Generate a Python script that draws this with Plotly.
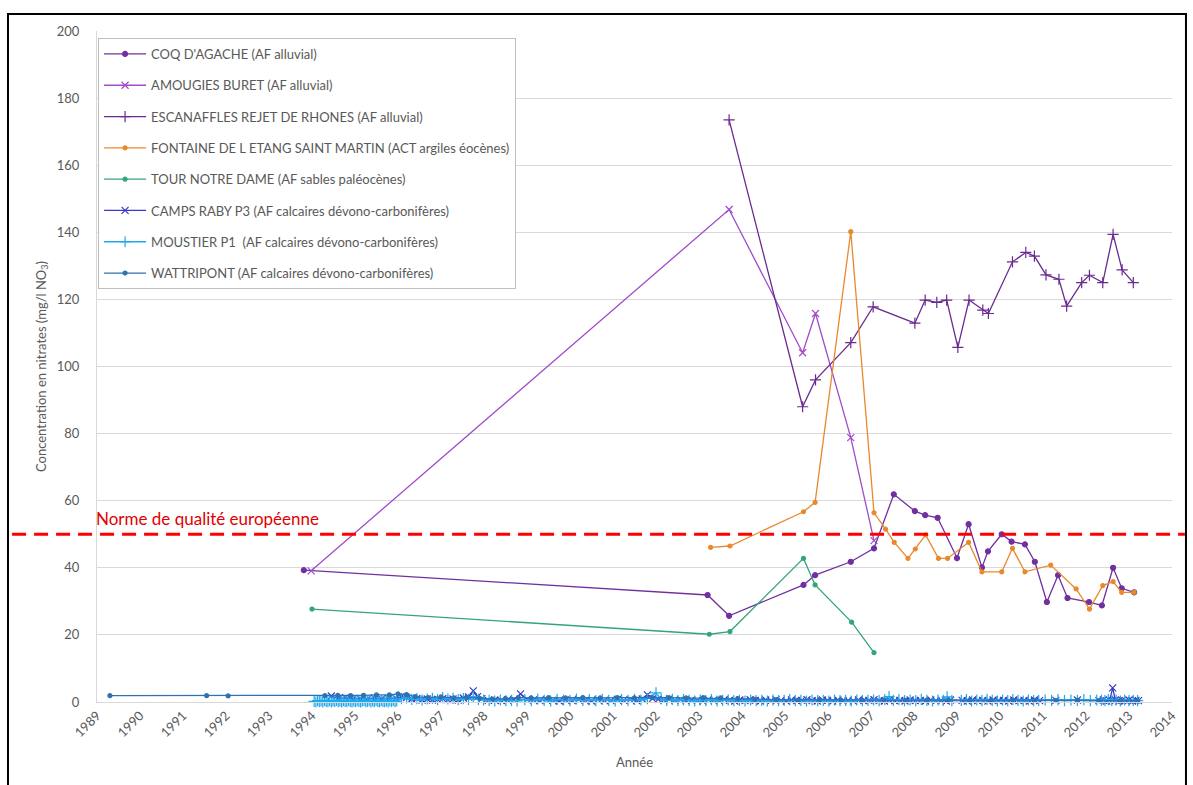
import plotly.graph_objects as go

# --- Nitrate concentrations (mg/l NO3) per well, x in decimal years ---
coq_x = [1993.81, 2003.20, 2003.70, 2005.43, 2005.70, 2006.53, 2007.07, 2007.53, 2008.02, 2008.26,
         2008.55, 2009.00, 2009.27, 2009.58, 2009.72, 2010.04, 2010.27, 2010.58, 2010.81, 2011.09,
         2011.35, 2011.57, 2012.07, 2012.37, 2012.63, 2012.83, 2013.12]
coq_y = [39.3, 31.9, 25.7, 34.9, 37.8, 41.8, 45.8, 61.9, 56.9, 55.7,
         54.9, 42.9, 53.0, 40.1, 44.9, 50.0, 47.8, 47.0, 41.8, 29.8,
         37.8, 31.0, 29.8, 28.8, 40.0, 33.9, 32.7]

amougies_x = [1993.98, 2003.70, 2005.41, 2005.71, 2006.53, 2007.07]
amougies_y = [39.1, 146.8, 104.1, 115.8, 78.8, 48.1]

escanaffles_x = [2003.70, 2005.41, 2005.71, 2006.53, 2007.05, 2008.02, 2008.26, 2008.53, 2008.76, 2009.02,
                 2009.28, 2009.60, 2009.73, 2010.29, 2010.60, 2010.80, 2011.07, 2011.37, 2011.55, 2011.90,
                 2012.08, 2012.39, 2012.63, 2012.84, 2013.10]
escanaffles_y = [173.5, 88.0, 96.0, 107.1, 117.8, 112.9, 119.8, 119.1, 119.8, 105.7,
                 119.8, 116.8, 115.8, 131.2, 134.0, 132.9, 127.3, 126.0, 118.0, 125.0,
                 127.2, 125.0, 139.4, 128.8, 125.0]

fontaine_x = [2003.27, 2003.72, 2005.43, 2005.70, 2006.53, 2007.07, 2007.34, 2007.54, 2007.86, 2008.03,
              2008.27, 2008.57, 2008.78, 2009.27, 2009.58, 2010.04, 2010.29, 2010.58, 2011.18, 2011.77,
              2012.08, 2012.39, 2012.63, 2012.83, 2013.12]
fontaine_y = [46.1, 46.5, 56.7, 59.5, 140.2, 56.4, 51.5, 47.6, 42.8, 45.6,
              49.8, 42.8, 42.8, 47.6, 38.8, 38.8, 45.8, 38.8, 40.8, 33.7,
              27.7, 34.7, 35.9, 32.7, 32.7]

tour_x = [1994.00, 2003.24, 2003.72, 2005.43, 2005.70, 2006.55, 2007.07]
tour_y = [27.7, 20.2, 21.0, 42.8, 34.9, 23.8, 14.7]

camps_raby = [
    (1994.45, 1.8), (1994.62, 1.0), (1994.78, 1.3), (1994.95, 0.9), (1995.12, 1.1), (1995.28, 0.8),
    (1995.45, 1.2), (1995.62, 0.9), (1995.78, 1.0), (1995.95, 1.2), (1996.08, 1.6), (1996.20, 1.4),
    (1996.32, 0.9), (1996.44, 1.1), (1996.56, 0.6), (1996.68, 0.9), (1996.80, 0.6), (1996.92, 0.8),
    (1997.04, 1.0), (1997.16, 0.7), (1997.28, 0.9), (1997.40, 0.6), (1997.52, 1.2), (1997.64, 1.5),
    (1997.75, 3.3), (1997.85, 1.6), (1997.95, 1.0), (1998.10, 0.5), (1998.25, 0.6), (1998.40, 0.4),
    (1998.55, 0.6), (1998.70, 0.8), (1998.85, 2.4), (1999.00, 0.8), (1999.15, 0.6), (1999.30, 0.4),
    (1999.45, 0.7), (1999.60, 0.5), (1999.75, 0.3), (1999.90, 0.6), (2000.05, 0.4), (2000.20, 0.8),
    (2000.35, 0.5), (2000.50, 0.3), (2000.65, 0.7), (2000.80, 0.5), (2000.95, 0.4), (2001.10, 0.8),
    (2001.25, 0.5), (2001.40, 0.7), (2001.55, 0.4), (2001.68, 0.9), (2001.80, 2.1), (2001.92, 1.0),
    (2002.05, 0.8), (2002.18, 0.6), (2002.31, 0.9), (2002.44, 0.5), (2002.57, 0.7), (2002.70, 0.4),
    (2002.83, 0.6), (2002.96, 0.5), (2003.09, 0.3), (2003.22, 0.7), (2003.35, 0.6), (2003.47, 0.4),
    (2003.59, 0.7), (2003.71, 0.5), (2003.83, 0.3), (2003.95, 0.6), (2004.07, 0.4), (2004.19, 0.7),
    (2004.31, 0.5), (2004.43, 0.3), (2004.55, 0.6), (2004.67, 0.4), (2004.79, 0.7), (2004.91, 0.5),
    (2005.03, 0.3), (2005.15, 0.6), (2005.27, 0.4), (2005.39, 0.5), (2005.51, 0.7), (2005.63, 0.4),
    (2005.75, 0.3), (2005.87, 0.6), (2005.99, 0.5), (2006.11, 0.3), (2006.23, 0.6), (2006.35, 0.4),
    (2006.47, 0.5), (2006.59, 0.3), (2006.71, 0.6), (2006.83, 0.4), (2006.95, 0.5), (2007.07, 0.7),
    (2007.19, 0.4), (2007.31, 0.3), (2007.43, 0.6), (2007.55, 0.4), (2007.67, 0.5), (2007.79, 0.3),
    (2007.91, 0.6), (2008.03, 0.4), (2008.15, 0.5), (2008.27, 0.3), (2008.39, 0.6), (2008.51, 0.4),
    (2008.63, 0.5), (2008.75, 0.3), (2008.85, 0.6), (2009.12, 0.5), (2009.24, 0.3), (2009.36, 0.6),
    (2009.48, 0.4), (2009.60, 0.5), (2009.72, 0.3), (2009.84, 0.6), (2009.96, 0.4), (2010.08, 0.5),
    (2010.20, 0.3), (2010.32, 0.6), (2010.44, 0.4), (2010.56, 0.5), (2010.68, 0.3), (2010.80, 0.6),
    (2010.92, 0.4), (2011.30, 0.5), (2011.80, 0.6), (2012.30, 0.4), (2012.40, 0.6), (2012.48, 0.3),
    (2012.55, 0.5), (2012.62, 4.2), (2012.68, 0.6), (2012.76, 0.3), (2012.84, 0.5), (2012.92, 0.4),
    (2013.00, 0.6), (2013.08, 0.3), (2013.16, 0.5), (2013.22, 0.4),
]

moustier = [
    (1994.05, 0.2), (1994.09, 0.0), (1994.13, 0.4), (1994.17, 0.1), (1994.21, 0.3), (1994.25, 0.0),
    (1994.29, 0.5), (1994.33, 0.2), (1994.37, 0.1), (1994.41, 0.4), (1994.45, 0.0), (1994.49, 0.3),
    (1994.53, 0.2), (1994.57, 0.5), (1994.61, 0.1), (1994.65, 0.3), (1994.69, 0.0), (1994.73, 0.4),
    (1994.77, 0.2), (1994.81, 0.1), (1994.85, 0.5), (1994.89, 0.2), (1994.93, 0.0), (1994.97, 0.3),
    (1995.01, 0.1), (1995.05, 0.4), (1995.09, 0.2), (1995.13, 0.0), (1995.17, 0.3), (1995.21, 0.5),
    (1995.25, 0.1), (1995.29, 0.2), (1995.33, 0.4), (1995.37, 0.0), (1995.41, 0.3), (1995.45, 0.1),
    (1995.49, 0.5), (1995.53, 0.2), (1995.57, 0.0), (1995.61, 0.4), (1995.65, 0.2), (1995.69, 0.1),
    (1995.73, 0.3), (1995.77, 0.0), (1995.81, 0.4), (1995.85, 0.2), (1995.89, 0.5), (1995.93, 0.1),
    (1995.97, 0.3), (1996.08, 1.0), (1996.20, 1.2), (1996.32, 0.8), (1996.44, 1.0), (1996.56, 0.6),
    (1996.68, 0.9), (1996.80, 1.1), (1996.92, 0.7), (1997.04, 1.3), (1997.16, 0.9), (1997.28, 1.1),
    (1997.40, 0.7), (1997.52, 1.0), (1997.64, 0.8), (1997.75, 1.6), (1997.87, 0.8), (1997.99, 0.6),
    (1998.12, 0.5), (1998.25, 0.3), (1998.38, 0.6), (1998.51, 0.4), (1998.64, 0.5), (1998.77, 0.3),
    (1998.95, 0.7), (1999.10, 0.4), (1999.25, 0.9), (1999.40, 0.5), (1999.55, 0.3), (1999.70, 0.8),
    (1999.85, 0.6), (2000.00, 0.4), (2000.15, 0.9), (2000.30, 0.5), (2000.45, 0.7), (2000.60, 0.4),
    (2000.75, 0.8), (2000.90, 0.5), (2001.05, 0.3), (2001.20, 0.7), (2001.35, 0.5), (2001.50, 0.8),
    (2001.65, 0.6), (2001.80, 1.0), (2002.00, 2.7), (2002.12, 0.9), (2002.25, 0.5), (2002.38, 0.8),
    (2002.51, 0.4), (2002.64, 0.7), (2002.77, 0.5), (2002.90, 0.3), (2003.03, 0.6), (2003.16, 0.4),
    (2003.29, 0.7), (2003.42, 0.3), (2003.55, 0.5), (2003.68, 0.6), (2003.81, 0.4), (2003.94, 0.5),
    (2004.07, 0.3), (2004.20, 0.6), (2004.33, 0.4), (2004.46, 0.5), (2004.59, 0.3), (2004.72, 0.6),
    (2004.85, 0.4), (2004.98, 0.5), (2005.11, 0.7), (2005.24, 0.4), (2005.37, 0.5), (2005.50, 0.3),
    (2005.63, 0.6), (2005.76, 0.4), (2005.89, 0.5), (2006.02, 0.3), (2006.15, 0.6), (2006.28, 0.4),
    (2006.41, 0.5), (2006.54, 0.3), (2006.67, 0.6), (2006.80, 0.4), (2006.93, 0.5), (2007.06, 0.6),
    (2007.19, 0.4), (2007.32, 0.7), (2007.42, 1.6), (2007.52, 0.5), (2007.65, 0.7), (2007.78, 0.4),
    (2007.91, 0.6), (2008.04, 0.4), (2008.17, 0.8), (2008.30, 0.5), (2008.43, 0.3), (2008.56, 0.6),
    (2008.68, 0.5), (2008.77, 1.5), (2008.88, 0.4), (2009.10, 0.5), (2009.22, 0.7), (2009.34, 0.3),
    (2009.46, 0.6), (2009.58, 0.4), (2009.70, 0.8), (2009.82, 0.5), (2009.94, 0.3), (2010.06, 0.6),
    (2010.18, 0.4), (2010.30, 0.7), (2010.42, 0.5), (2010.54, 0.3), (2010.66, 0.6), (2010.78, 0.4),
    (2010.90, 0.5), (2011.05, 0.6), (2011.20, 0.5), (2011.35, 0.7), (2011.50, 0.4), (2011.65, 0.6),
    (2011.80, 0.5), (2011.95, 0.7), (2012.10, 0.4), (2012.25, 0.6), (2012.36, 0.5), (2012.44, 0.4),
    (2012.52, 0.7), (2012.60, 0.5), (2012.70, 0.6), (2012.80, 0.3), (2012.90, 0.6), (2013.00, 0.4),
    (2013.10, 0.5), (2013.20, 0.4),
]

wattripont = [
    (1989.30, 1.9), (1991.55, 1.9), (1992.05, 1.8), (1994.30, 1.9), (1994.60, 2.0), (1994.90, 1.9),
    (1995.20, 2.0), (1995.50, 2.1), (1995.80, 2.1), (1996.00, 2.4), (1996.20, 2.2), (1996.40, 1.6),
    (1996.70, 1.3), (1997.00, 1.5), (1997.30, 1.2), (1997.60, 1.4), (1997.90, 1.1), (1998.20, 0.9),
    (1998.50, 1.0), (1998.80, 1.3), (1999.10, 1.2), (1999.50, 1.3), (1999.90, 1.2), (2000.30, 1.3),
    (2000.70, 1.2), (2001.10, 1.3), (2001.50, 1.2), (2001.90, 1.4), (2002.30, 1.3), (2002.70, 1.2),
    (2003.10, 1.3), (2003.50, 1.2), (2003.90, 1.0), (2004.30, 0.8), (2004.80, 0.7), (2005.30, 0.6),
    (2005.80, 0.7), (2006.30, 0.6), (2006.80, 0.5), (2007.30, 0.6), (2007.80, 0.5), (2008.30, 0.6),
    (2008.80, 0.5), (2009.30, 0.6), (2009.80, 0.5), (2010.30, 0.6), (2010.80, 0.5), (2011.30, 0.4),
    (2011.80, 0.5), (2012.30, 0.4), (2012.80, 0.5), (2013.20, 0.4),
]

norme_ue = 50
years = list(range(1989, 2015))

FONT = "Lato, 'Open Sans', sans-serif"
GREY = "#595959"

fig = go.Figure()


def add_series(name, x, y, color, symbol, size, group, width=1.3):
    fig.add_trace(go.Scatter(
        x=x, y=y, name=name, mode="lines+markers", legendgroup=group, cliponaxis=False,
        line=dict(color=color, width=width),
        marker=dict(symbol=symbol, size=size, color=color,
                    line=dict(color=color, width=1.2)),
    ))


add_series("COQ D'AGACHE (AF alluvial)", coq_x, coq_y, "#7030A0", "circle", 5, "g1")
add_series("AMOUGIES BURET (AF alluvial)", amougies_x, amougies_y, "#A24BCB", "x-thin", 7, "g2")
add_series("ESCANAFFLES REJET DE RHONES (AF alluvial)", escanaffles_x, escanaffles_y,
           "#6B2A90", "cross-thin", 8, "g3")
add_series("FONTAINE DE L ETANG SAINT MARTIN (ACT argiles éocènes)", fontaine_x, fontaine_y,
           "#E8892E", "circle", 4, "g4")
add_series("TOUR NOTRE DAME (AF sables paléocènes)", tour_x, tour_y, "#34A479", "circle", 4, "g5")
add_series("CAMPS RABY P3 (AF calcaires dévono-carbonifères)",
           [p[0] for p in camps_raby], [p[1] for p in camps_raby], "#3A3AC8", "x-thin", 7, "g6")
add_series("MOUSTIER P1  (AF calcaires dévono-carbonifères)",
           [p[0] for p in moustier], [p[1] for p in moustier], "#1FA9EC", "cross-thin", 8, "g7")
add_series("WATTRIPONT (AF calcaires dévono-carbonifères)",
           [p[0] for p in wattripont], [p[1] for p in wattripont], "#2E72B0", "circle", 4, "g8")

# European quality standard
fig.add_shape(type="line", xref="paper", yref="y", x0=-0.079, x1=1.012, y0=norme_ue, y1=norme_ue,
              line=dict(color="#FF0000", width=3, dash="14px,8px"), layer="above")
fig.add_annotation(text="Norme de qualité européenne", xref="paper", yref="y", x=-0.003, y=norme_ue,
                   xanchor="left", yanchor="bottom", yshift=3, showarrow=False,
                   font=dict(family=FONT, size=17, color="#E00000"))

# Chart frame
fig.add_shape(type="rect", xref="paper", yref="paper", x0=-0.0828, x1=1.013, y0=-0.14, y1=1.0253,
              line=dict(color="black", width=2), fillcolor="rgba(0,0,0,0)", layer="above")

fig.update_layout(
    width=1193, height=785,
    margin=dict(l=97, r=21, t=31, b=83),
    paper_bgcolor="white", plot_bgcolor="white",
    font=dict(family=FONT, size=12, color=GREY),
    showlegend=True,
    legend=dict(x=0.001, y=0.9896, xanchor="left", yanchor="top",
                bgcolor="white", bordercolor="#BFBFBF", borderwidth=1,
                font=dict(family=FONT, size=13, color=GREY),
                tracegroupgap=11.4, itemwidth=42),
    xaxis=dict(range=[1989, 2014], tickmode="array", tickvals=years,
               ticktext=[str(v) for v in years], tickangle=-45,
               showgrid=False, zeroline=False, showline=True, linecolor="#D9D9D9", linewidth=1,
               tickfont=dict(family=FONT, size=13, color=GREY),
               title=dict(text="Année", font=dict(family=FONT, size=13, color=GREY), standoff=18)),
    yaxis=dict(range=[0, 200], dtick=20, showgrid=True, gridcolor="#D9D9D9", gridwidth=1,
               zeroline=False, showline=True, linecolor="#D9D9D9", linewidth=1,
               ticklabelstandoff=14,
               tickfont=dict(family=FONT, size=13, color=GREY),
               title=dict(text="Concentration en nitrates (mg/l NO<sub>3</sub>)",
                          font=dict(family=FONT, size=13, color=GREY), standoff=7)),
)

fig.write_html("out.html")
